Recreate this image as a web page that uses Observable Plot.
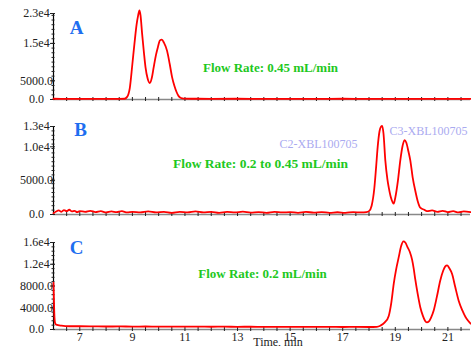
<!DOCTYPE html>
<html><head><meta charset="utf-8">
<script src="https://cdn.jsdelivr.net/npm/d3@7"></script>
<script src="https://cdn.jsdelivr.net/npm/@observablehq/plot@0.6"></script>
<style>body{margin:0;background:#fff;} #chart svg{display:block;}</style>
</head><body><div id="chart"></div>
<script>
// ---- Data ----
const timesA  = [6.0, 6.5, 7.0, 7.5, 8.0, 8.5, 8.7, 8.8, 8.9, 9.0, 9.08, 9.16, 9.22, 9.27, 9.31, 9.37, 9.44, 9.5, 9.58, 9.66, 9.74, 9.81, 9.9, 9.97, 10.05, 10.12, 10.2, 10.32, 10.42, 10.51, 10.6, 10.68, 10.76, 10.85, 10.95, 11.5, 12, 13, 14, 15, 16, 17, 18, 19, 20, 21, 21.86];
const valuesA = [200, 150, 180, 150, 170, 180, 200, 700, 3000, 9500, 15000, 20000, 22500, 23800, 22500, 17600, 12500, 8600, 5600, 4400, 5800, 8600, 12000, 14000, 15800, 16000, 15200, 13000, 9500, 6000, 3600, 2000, 900, 400, 250, 200, 180, 200, 170, 190, 180, 200, 170, 190, 180, 170, 180];

const timesB  = [6.0, 6.1, 6.2, 6.3, 6.4, 6.5, 6.6, 6.7, 6.8, 6.9, 7.0, 7.2, 7.4, 7.6, 7.8, 8.0, 8.2, 8.4, 8.6, 8.8, 9.0, 9.3, 9.6, 9.9, 10.2, 10.5, 10.8, 11.1, 11.4, 11.7, 12.0, 12.3, 12.6, 12.9, 13.2, 13.5, 13.8, 14.1, 14.4, 14.7, 15.0, 15.3, 15.6, 15.9, 16.2, 16.5, 16.8, 17.1, 17.4, 17.7, 17.9, 18.0, 18.1, 18.2, 18.27, 18.33, 18.4, 18.46, 18.5, 18.55, 18.62, 18.7, 18.75, 18.82, 18.9, 18.94, 19.0, 19.1, 19.19, 19.28, 19.35, 19.42, 19.5, 19.57, 19.66, 19.76, 19.85, 19.95, 20.1, 20.2, 20.4, 20.6, 20.8, 21.0, 21.2, 21.4, 21.6, 21.86];
const valuesB = [200, 450, 600, 400, 650, 500, 700, 450, 550, 350, 500, 400, 550, 350, 500, 300, 450, 350, 500, 300, 400, 300, 450, 300, 400, 250, 400, 300, 450, 300, 400, 250, 380, 300, 420, 280, 350, 250, 400, 300, 350, 250, 380, 280, 350, 250, 330, 250, 350, 300, 350, 500, 1300, 3800, 7000, 10000, 12300, 13000, 13100, 12000, 8000, 5200, 4000, 2700, 1800, 1600, 2500, 5000, 8000, 10200, 11000, 10600, 9300, 8000, 5500, 3500, 2000, 1000, 700, 500, 600, 400, 550, 350, 500, 300, 450, 350];

const timesC  = [6.0, 6.03, 6.06, 6.1, 6.3, 6.6, 7.0, 7.5, 8.0, 8.5, 9.0, 9.5, 10.0, 10.5, 11.0, 11.5, 12.0, 12.5, 13.0, 13.5, 14.0, 14.5, 15.0, 15.5, 16.0, 16.5, 17.0, 17.5, 18.0, 18.3, 18.43, 18.6, 18.75, 18.85, 18.94, 19.03, 19.13, 19.22, 19.31, 19.38, 19.46, 19.55, 19.64, 19.7, 19.76, 19.85, 19.95, 20.05, 20.13, 20.2, 20.28, 20.36, 20.46, 20.58, 20.71, 20.82, 20.9, 20.97, 21.05, 21.16, 21.28, 21.41, 21.55, 21.67, 21.77, 21.86];
const valuesC = [8600, 3000, 1200, 900, 700, 600, 600, 580, 550, 560, 540, 550, 530, 540, 520, 530, 510, 520, 500, 510, 490, 500, 480, 490, 470, 480, 460, 470, 460, 500, 700, 1300, 2500, 5000, 8400, 11000, 13300, 15300, 16200, 16000, 15200, 14300, 12800, 11200, 9200, 6600, 4100, 2500, 1600, 1300, 1500, 2200, 3500, 6000, 9000, 10800, 11600, 11800, 11300, 10200, 7800, 5300, 3500, 2300, 1600, 1100];

const panelLetters = ["A", "B", "C"];
const flowRates = ["Flow Rate: 0.45 mL/min", "Flow Rate: 0.2 to 0.45 mL/min", "Flow Rate: 0.2 mL/min"];
const peakLabels = ["C2-XBL100705", "C3-XBL100705"];

const yTicksA = [0, 5000, 15000, 23000];
const yTickLabelsA = ["0.0", "5000.0", "1.5e4", "2.3e4"];
const yTicksB = [0, 5000, 10000, 13000];
const yTickLabelsB = ["0.0", "5000.0", "1.0e4", "1.3e4"];
const yTicksC = [0, 4000, 8000, 12000, 16000];
const yTickLabelsC = ["0.0", "4000.0", "8000.0", "1.2e4", "1.6e4"];

const xTicks = [7, 9, 11, 13, 15, 17, 19, 21];
const xLabel = "Time, min";
const xDomain = [6, 21.86];

// ---- Drawing ----
const FONT = "'Liberation Serif', 'Times New Roman', serif";
const BLUE = "#1e6ef0", GREEN = "#1ec81e", LAVENDER = "#aaaaf0";
const blank = () => "";

function panel({times, values, yDomain, yTicks, yLabels, minorStep, height, mt, mb, letter, letterDx, letterDy, flow, flowDx, flowDy, flowSize, extra = [], showX = false}) {
  const labelMap = new Map(yTicks.map((t, i) => [t, yLabels[i]]));
  const marks = [
    Plot.ruleY([0], {stroke: "#888", strokeWidth: 1.6}),
    Plot.axisX(d3.range(6.5, 21.9, 0.5), {tickSize: 4, dy: -2, stroke: "#222", strokeWidth: 1, tickFormat: blank, label: null}),
    Plot.ruleX([xDomain[0]], {stroke: "#000", strokeWidth: 1.2}),
    Plot.axisY(d3.range(0, yDomain[1] + 1, minorStep), {tickSize: 3, dx: 1.5, stroke: "#222", strokeWidth: 1, tickFormat: blank, label: null}),
    Plot.axisY(yTicks, {tickSize: 5, dx: 2, stroke: "#222", strokeWidth: 1, tickFormat: blank, label: null}),
    Plot.axisY(yTicks, {tickSize: 0, tickPadding: 17, textAnchor: "middle", tickFormat: d => labelMap.get(d), fill: "#222", fontSize: 12, label: null}),
    Plot.line(values, {x: times, y: values, curve: "monotone-x", stroke: "#ff0000", strokeWidth: 1.8}),
    Plot.text([letter], {frameAnchor: "top-left", dx: letterDx, dy: letterDy, textAnchor: "middle", lineAnchor: "middle", fill: BLUE, fontSize: 19, fontWeight: "bold"}),
    Plot.text([flow], {frameAnchor: "top-left", dx: flowDx, dy: flowDy, textAnchor: "middle", lineAnchor: "middle", fill: GREEN, fontSize: flowSize, fontWeight: "bold"}),
    ...extra
  ];
  if (showX) {
    marks.push(Plot.axisX(xTicks, {tickSize: 0, tickPadding: 3, fill: "#222", fontSize: 12, label: null}));
    marks.push(Plot.text([xLabel], {frameAnchor: "bottom", dx: 16, dy: 8, lineAnchor: "top", textAnchor: "middle", fill: "#222", fontSize: 12}));
  }
  return Plot.plot({
    width: 471, height,
    marginLeft: 53, marginRight: 1, marginTop: mt, marginBottom: mb,
    style: {fontFamily: FONT, background: "white", overflow: "visible"},
    x: {domain: xDomain, axis: null},
    y: {domain: yDomain, axis: null},
    marks
  });
}

const chart = document.getElementById("chart");
chart.append(panel({
  times: timesA, values: valuesA, yDomain: [0, 23000], yTicks: yTicksA, yLabels: yTickLabelsA, minorStep: 1250,
  height: 110, mt: 13, mb: 11,
  letter: panelLetters[0], letterDx: 23, letterDy: 14,
  flow: flowRates[0], flowDx: 217, flowDy: 54, flowSize: 13
}));
chart.append(panel({
  times: timesB, values: valuesB, yDomain: [0, 13000], yTicks: yTicksB, yLabels: yTickLabelsB, minorStep: 650,
  height: 116, mt: 16, mb: 12,
  letter: panelLetters[1], letterDx: 27, letterDy: 3.5,
  flow: flowRates[1], flowDx: 207, flowDy: 37, flowSize: 13.5,
  extra: [
    Plot.text([peakLabels[0]], {frameAnchor: "top-left", dx: 265, dy: 17.5, textAnchor: "middle", lineAnchor: "middle", fill: LAVENDER, fontSize: 12}),
    Plot.text([peakLabels[1]], {frameAnchor: "top-left", dx: 375, dy: 4.5, textAnchor: "middle", lineAnchor: "middle", fill: LAVENDER, fontSize: 12})
  ]
}));
chart.append(panel({
  times: timesC, values: valuesC, yDomain: [0, 16000], yTicks: yTicksC, yLabels: yTickLabelsC, minorStep: 800,
  height: 120, mt: 16, mb: 17,
  letter: panelLetters[2], letterDx: 23, letterDy: 5.5,
  flow: flowRates[2], flowDx: 209, flowDy: 31, flowSize: 13,
  showX: true
}));
</script>
</body></html>
